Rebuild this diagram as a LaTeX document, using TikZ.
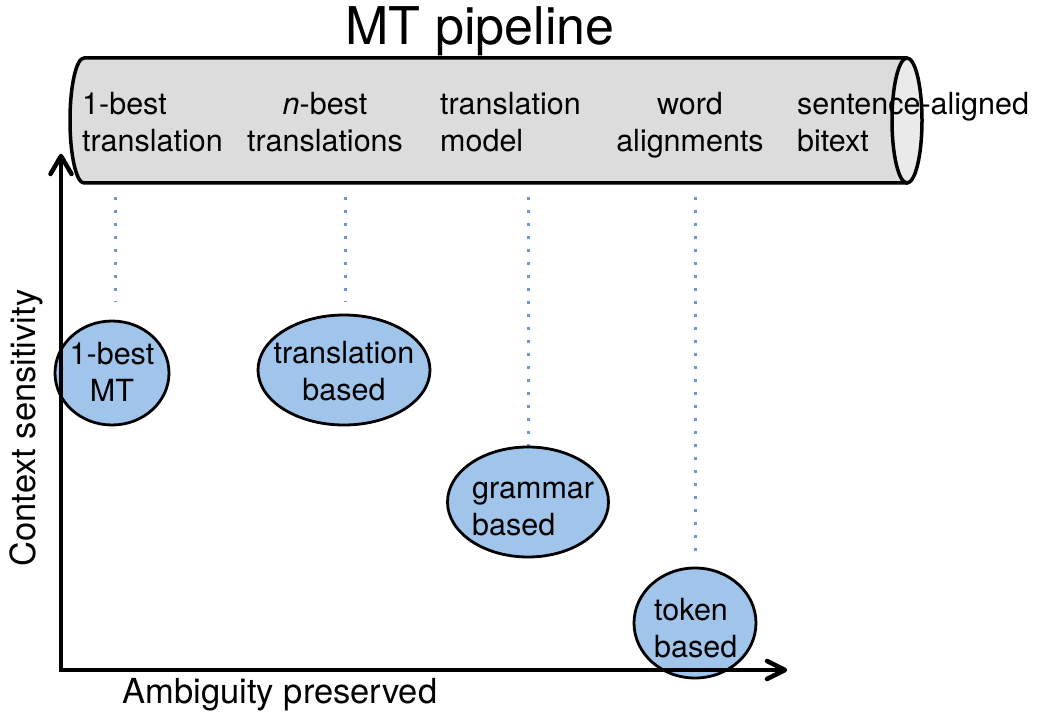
\documentclass[tikz,border=0pt]{standalone}
\usepackage{fontspec}
\setmainfont{TeX Gyre Heros}
\usetikzlibrary{shapes.geometric}

\begin{document}
\begin{tikzpicture}[x=1pt,y=-1pt,
	txt/.style={font=\fontsize{30.5}{37}\selectfont, inner sep=0pt, text=BLACK},
	lbl/.style={font=\fontsize{34.5}{40}\selectfont, inner sep=0pt, text=BLACK},
	blob/.style={ellipse, draw=BLACK, line width=2.8pt, fill=BLOB, inner sep=0pt},
	hint/.style={HINT, line width=3pt, dash pattern=on 3pt off 10pt},
	axis/.style={BLACK, line width=4.5pt}]
	\definecolor{BLACK}{RGB}{0,0,0}
	\definecolor{BLOB}{RGB}{160,196,234}
	\definecolor{PIPE}{RGB}{220,220,220}
	\definecolor{PIPECAP}{RGB}{234,234,234}
	\definecolor{HINT}{RGB}{104,152,212}
	\useasboundingbox (0,0) rectangle (1039,719);
	% the pipe
	\draw[BLACK, line width=3.5pt, line join=round, fill=PIPE]
	(907,58) -- (84,58) arc[start angle=90, end angle=270, x radius=14pt, y radius=62.5pt]
	-- (907,183) -- cycle;
	\draw[BLACK, line width=3.5pt, fill=PIPECAP]
	(907,120.5) ellipse[x radius=15, y radius=62.5];
	\node[font=\fontsize{52}{60}\selectfont, inner sep=0pt, anchor=base] (title) at (480,45)
	{MT pipeline};
	\node[txt, align=left, anchor=base west] (onebest) at (82,152) {1-best\\translation};
	\node[txt, align=center, anchor=base] (nbest) at (325,152) {\itshape n\upshape-best\\translations};
	\node[txt, align=left, anchor=base west] (tmodel) at (440,152) {translation\\model};
	\node[txt, align=center, anchor=base] (walign) at (690,152) {word\\alignments};
	\node[txt, align=left, anchor=base west] (bitext) at (797,152) {sentence-aligned\\bitext};
	% dotted guides
	\coordinate (g1a) at (115,197); \coordinate (g1b) at (115,302);
	\coordinate (g2a) at (345,197); \coordinate (g2b) at (345,302);
	\coordinate (g3a) at (528,197); \coordinate (g3b) at (528,447);
	\coordinate (g4a) at (695,197); \coordinate (g4b) at (695,560);
	\draw[hint] (g1a) -- (g1b);
	\draw[hint] (g2a) -- (g2b);
	\draw[hint] (g3a) -- (g3b);
	\draw[hint] (g4a) -- (g4b);
	% methods
	\node[blob, minimum width=114pt, minimum height=104pt] (mt) at (112,373) {};
	\node[blob, minimum width=172pt, minimum height=110pt] (tb) at (344,370) {};
	\node[blob, minimum width=161pt, minimum height=110pt] (gb) at (528,502) {};
	\node[blob, minimum width=122pt, minimum height=110pt] (kb) at (695,623) {};
	% axes
	\coordinate (origin) at (61,670);
	\coordinate (ytip) at (61,156);
	\coordinate (xtip) at (785,670);
	\draw[axis] (ytip) -- (origin) -- (xtip);
	\draw[axis, line join=round, line cap=round] (ytip) ++(-10.5,18) -- (ytip) -- ++(10.5,18);
	\draw[axis, line join=round, line cap=round] (xtip) ++(-18,-9) -- (xtip) -- ++(-18,9);
	\node[lbl, rotate=90, anchor=base] (ylabel) at (35,428) {Context sensitivity};
	\node[lbl, anchor=base] (xlabel) at (280,703) {Ambiguity preserved};
	% method labels
	\node[txt, align=center, anchor=base] (mttxt) at (112,401) {1-best\\MT};
	\node[txt, align=center, anchor=base] (tbtxt) at (344,400) {translation\\based};
	\node[txt, align=left, anchor=base west] (gbtxt) at (472,535) {grammar\\based};
	\node[txt, align=left, anchor=base west] (kbtxt) at (654,657) {token\\based};
\end{tikzpicture}
\end{document}
